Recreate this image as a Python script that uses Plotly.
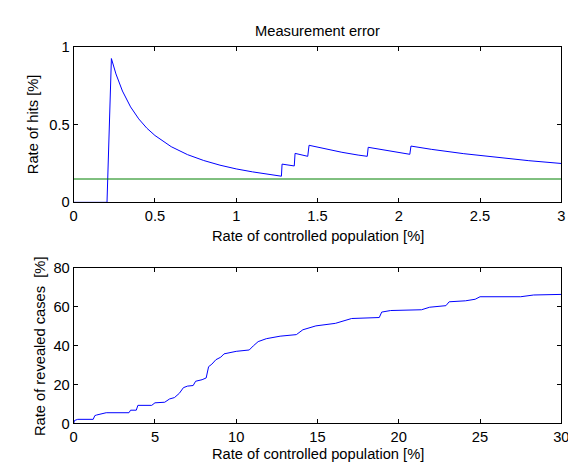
import plotly.graph_objects as go

W, H = 576, 463

# Top panel: rate of hits [%] vs rate of controlled population [%]
top_x = [0, 0.205, 0.232, 0.26, 0.30, 0.35, 0.40, 0.45, 0.50, 0.60,
         0.70, 0.80, 0.90, 1.00, 1.10, 1.20, 1.278, 1.282, 1.357, 1.362,
         1.440, 1.448, 1.55, 1.65, 1.75, 1.806, 1.812, 1.90, 2.00, 2.068,
         2.075, 2.2, 2.4, 2.6, 2.8, 3.0]
top_y = [0, 0, 0.925, 0.826, 0.716, 0.614, 0.537, 0.477, 0.430, 0.358,
         0.307, 0.269, 0.239, 0.215, 0.196, 0.179, 0.168, 0.246, 0.234, 0.315,
         0.296, 0.367, 0.343, 0.322, 0.304, 0.296, 0.354, 0.337, 0.320, 0.309,
         0.362, 0.341, 0.313, 0.289, 0.268, 0.250]
ref_x = [0, 3]
ref_y = [0.15, 0.15]

# Bottom panel: rate of revealed cases [%] vs rate of controlled population [%]
bot_x = [0, 0.05, 0.25, 1.2, 1.3, 1.4, 2.0, 3.4, 3.5, 3.85,
         3.95, 4.8, 5.0, 5.6, 5.9, 6.2, 6.5, 6.75, 7.0, 7.35,
         7.5, 7.9, 8.15, 8.3, 8.5, 8.75, 9.05, 9.25, 10.0, 10.8,
         11.05, 11.35, 11.85, 12.7, 13.7, 14.1, 14.9, 15.5, 16.1, 17.1,
         18.8, 18.95, 19.5, 21.4, 21.9, 22.9, 23.1, 24.1, 24.7, 25.0,
         27.5, 28.3, 30.0]
bot_y = [0, 1.5, 2.1, 2.1, 4.0, 4.3, 5.5, 5.5, 6.8, 6.8,
         9.3, 9.3, 10.6, 10.9, 12.6, 13.3, 15.5, 18.4, 19.2, 19.5,
         21.7, 22.5, 23.4, 29.2, 30.5, 32.8, 34.1, 35.8, 37.1, 37.8,
         39.9, 42.1, 43.6, 44.9, 45.7, 48.2, 50.2, 51.0, 51.5, 54.0,
         54.5, 57.3, 58.1, 58.5, 59.8, 60.6, 62.6, 63.1, 63.9, 65.2,
         65.2, 66.1, 66.4]

top_xticks = [0, 0.5, 1, 1.5, 2, 2.5, 3]
top_xlabels = ["0", "0.5", "1", "1.5", "2", "2.5", "3"]
top_yticks = [0, 0.5, 1]
top_ylabels = ["0", "0.5", "1"]
bot_xticks = [0, 5, 10, 15, 20, 25, 30]
bot_yticks = [0, 20, 40, 60, 80]

FONT = "Liberation Sans, Arial, sans-serif"
FS = 14.7

# pixel geometry (paper coords == pixels since margins are 0)
L, R = 63, 561
T1, B1 = 32, 193
T2, B2 = 261, 422

def px(x):
    return x / W

def py(y):
    return 1 - y / H

fig = go.Figure()
fig.add_trace(go.Scatter(x=top_x, y=top_y, mode="lines",
                         line=dict(color="#0000ff", width=1), xaxis="x", yaxis="y"))
fig.add_trace(go.Scatter(x=ref_x, y=ref_y, mode="lines",
                         line=dict(color="#008000", width=1), xaxis="x", yaxis="y"))
fig.add_trace(go.Scatter(x=bot_x, y=bot_y, mode="lines",
                         line=dict(color="#0000ff", width=1), xaxis="x2", yaxis="y2"))

axis_common = dict(showline=True, linecolor="black", linewidth=1, mirror="ticks",
                   ticks="inside", ticklen=4, tickcolor="black", tickwidth=1,
                   showgrid=False, zeroline=False,
                   tickfont=dict(family=FONT, size=FS, color="black"))

fig.update_layout(
    width=W, height=H, margin=dict(l=0, r=0, t=0, b=0),
    paper_bgcolor="white", plot_bgcolor="white", showlegend=False,
    font=dict(family=FONT, size=FS, color="black"),
    xaxis=dict(domain=[px(L), px(R)], range=[0, 3], tickvals=top_xticks,
               ticktext=top_xlabels, anchor="y", **axis_common),
    yaxis=dict(domain=[py(B1), py(T1)], range=[0, 1], tickvals=top_yticks,
               ticktext=top_ylabels, anchor="x", **axis_common),
    xaxis2=dict(domain=[px(L), px(R)], range=[0, 30], tickvals=bot_xticks,
                anchor="y2", **axis_common),
    yaxis2=dict(domain=[py(B2), py(T2)], range=[0, 80], tickvals=bot_yticks,
                anchor="x2", **axis_common),
)

ann = dict(xref="paper", yref="paper", showarrow=False,
           font=dict(family=FONT, size=FS, color="black"))
fig.add_annotation(text="Measurement error", x=px((L + R) / 2), y=py(16),
                   xanchor="center", yanchor="middle", **ann)
fig.add_annotation(text="Rate of controlled population [%]", x=px((L + R) / 2), y=py(228),
                   xanchor="center", yanchor="middle", **ann)
fig.add_annotation(text="Rate of controlled population [%]", x=px((L + R) / 2), y=py(454),
                   xanchor="center", yanchor="middle", **ann)
fig.add_annotation(text="Rate of hits [%]", x=px(21), y=py((T1 + B1) / 2),
                   xanchor="center", yanchor="middle", textangle=-90, **ann)
fig.add_annotation(text="Rate of revealed cases  [%]", x=px(28), y=py((T2 + B2) / 2),
                   xanchor="center", yanchor="middle", textangle=-90, **ann)

fig.write_html("out.html")
